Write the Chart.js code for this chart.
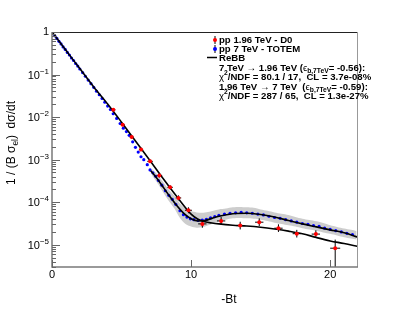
<!DOCTYPE html>
<html><head><meta charset="utf-8">
<script src="https://cdn.jsdelivr.net/npm/chart.js@4.4.0/dist/chart.umd.min.js"></script>
<style>html,body{margin:0;padding:0;background:#fff}canvas{display:block}</style>
</head><body>
<canvas id="c" width="399" height="314"></canvas>
<script>
// TOTEM 7 TeV data
const totemX = [0.05,0.2,0.35,0.5,0.65,0.8,0.95,1.1,1.25,1.4,1.55,1.7,1.85,2.0,2.2,2.4,2.6,2.8,3.0,3.2,3.4,3.6,3.8,4.0,4.2,4.4,4.65,4.9,5.13,5.35,5.55,5.8,6.0,6.2,6.4,6.6,6.85,7.05,7.25,7.45,7.65,7.9,8.15,8.4,8.65,8.9,9.2,9.45,9.7,9.95,10.2,10.5,10.8,11.1,11.4,11.7,12.0,12.4,12.8,13.2,13.6,14.0,14.4,14.8,15.2,15.6,16.0,16.4,16.8,17.2,17.6,18.0,18.4,18.8,19.2,19.6,20.0,20.4,20.8,21.2,21.6];
const totemY = [0.955,0.813,0.708,0.603,0.525,0.447,0.389,0.331,0.288,0.245,0.214,0.182,0.158,0.135,0.111,0.0912,0.0741,0.061,0.0501,0.0407,0.0335,0.0275,0.0224,0.0182,0.0151,0.0120,0.00933,0.00708,0.0055,0.00457,0.00372,0.00263,0.00195,0.00151,0.00117,0.001,7.6e-4,5.75e-4,4.9e-4,4.07e-4,3.24e-4,2.51e-4,1.86e-4,1.45e-4,1.17e-4,8.9e-5,6.3e-5,5.1e-5,4.47e-5,4.07e-5,3.89e-5,3.72e-5,3.8e-5,3.98e-5,4.27e-5,4.57e-5,4.9e-5,5.25e-5,5.5e-5,5.62e-5,5.75e-5,5.62e-5,5.5e-5,5.25e-5,5.01e-5,4.68e-5,4.37e-5,4.17e-5,3.89e-5,3.63e-5,3.39e-5,3.16e-5,3.02e-5,2.82e-5,2.69e-5,2.45e-5,2.29e-5,2.14e-5,2.0e-5,1.86e-5,1.74e-5];
// TOTEM systematic band
const bandX  = [7.2,7.6,8.0,8.4,8.8,9.2,9.6,10.0,10.4,10.8,11.2,11.6,12.0,12.5,13,13.5,14,14.5,15,15.5,16,16.5,17,17.5,18,18.5,19,19.5,20,20.5,21,21.5,21.9];
const bandHi = [6.03e-4,4.37e-4,2.95e-4,1.95e-4,1.41e-4,9.33e-5,7.08e-5,6.17e-5,5.75e-5,5.62e-5,5.89e-5,6.31e-5,6.76e-5,7.08e-5,7.59e-5,7.76e-5,7.59e-5,7.41e-5,6.76e-5,6.31e-5,5.75e-5,5.37e-5,5.01e-5,4.47e-5,4.07e-5,3.80e-5,3.55e-5,3.24e-5,2.88e-5,2.63e-5,2.40e-5,2.24e-5,2.09e-5];
const bandLo = [4.17e-4,2.75e-4,1.70e-4,1.07e-4,7.08e-5,4.27e-5,3.09e-5,2.69e-5,2.51e-5,2.57e-5,2.82e-5,3.16e-5,3.55e-5,3.89e-5,4.17e-5,4.27e-5,4.17e-5,4.07e-5,3.89e-5,3.63e-5,3.31e-5,3.09e-5,2.88e-5,2.69e-5,2.45e-5,2.29e-5,2.14e-5,1.95e-5,1.82e-5,1.66e-5,1.51e-5,1.41e-5,1.32e-5];
// D0 1.96 TeV data
const d0X   = [4.41,5.08,5.73,6.40,7.05,7.72,8.49,9.09,9.81,10.81,12.16,13.53,14.9,16.28,17.6,18.97,20.36];
const d0Y   = [0.0148,0.0066,0.00339,0.00174,9.12e-4,4.27e-4,2.24e-4,1.26e-4,6.46e-5,3.09e-5,3.63e-5,2.82e-5,3.39e-5,2.45e-5,1.82e-5,1.78e-5,8.3e-6];
const d0YHi = [0.0158,0.00708,0.00363,0.00191,0.001,4.79e-4,2.51e-4,1.45e-4,7.59e-5,3.8e-5,4.47e-5,3.47e-5,4.17e-5,3.02e-5,2.24e-5,2.19e-5,1.32e-5];
const d0YLo = [0.0138,0.00617,0.00316,0.00158,8.32e-4,3.80e-4,2.0e-4,1.10e-4,5.5e-5,2.51e-5,2.95e-5,2.29e-5,2.75e-5,2.0e-5,1.48e-5,1.45e-5,1e-7];
const d0ErrX = [0.15,0.15,0.15,0.15,0.2,0.2,0.2,0.2,0.25,0.3,0.3,0.3,0.3,0.3,0.3,0.3,0.36];
// ReBB curves
const rebb196X = [0,1,2,3,4,5,6,7,8,9,10,10.5,11,11.5,12,13,14,15,16,17,18,19,20,21,22];
const rebb196Y = [1,0.372,0.138,0.0513,0.0204,0.00759,0.00275,0.001,3.55e-4,1.32e-4,5.25e-5,3.98e-5,3.47e-5,3.24e-5,3.09e-5,2.88e-5,2.75e-5,2.57e-5,2.34e-5,2.09e-5,1.82e-5,1.48e-5,1.23e-5,1.07e-5,9.1e-6];
const rebb7X = [7.1,7.5,8,8.5,9,9.5,10,10.5,11,11.5,12,13,14,15,16,17,18,19,20,21,22];
const rebb7Y = [5.5e-4,3.8e-4,2.24e-4,1.32e-4,8.13e-5,5.37e-5,4.07e-5,3.63e-5,3.72e-5,4.17e-5,4.68e-5,5.37e-5,5.5e-5,5.13e-5,4.47e-5,3.72e-5,3.09e-5,2.63e-5,2.24e-5,1.91e-5,1.51e-5];
// axes
const xTicks = [0,10,20];
const yMajor = [1,1e-1,1e-2,1e-3,1e-4,1e-5];
const yMajorExp = [0,-1,-2,-3,-4,-5];

const pts = (xs, ys) => xs.map((x, i) => ({x: x, y: ys[i]}));
const RED_IDX = 3;
const FONT = '"Liberation Sans", Arial, Helvetica, sans-serif';

function richWidth(ctx, parts, size, bold) {
  let w = 0;
  for (const p of parts) {
    const s = p[1] === 'n' ? size : size * 0.7;
    ctx.font = (bold ? 'bold ' : '') + s + 'px ' + FONT;
    w += ctx.measureText(p[0]).width;
  }
  return w;
}
function drawRich(ctx, x, y, parts, size, bold) {
  ctx.textBaseline = 'middle';
  ctx.textAlign = 'left';
  for (const p of parts) {
    let s = size, dy = 0;
    if (p[1] === 'sub') { s = size * 0.7; dy = size * 0.3; }
    if (p[1] === 'sup') { s = size * 0.7; dy = -size * 0.35; }
    ctx.font = (p[2] === 'nb' ? '' : (bold ? 'bold ' : '')) + s + 'px ' + FONT;
    ctx.fillText(p[0], x, y + dy);
    x += ctx.measureText(p[0]).width;
  }
}

const overlay = {
  id: 'overlay',
  beforeDatasetDraw(chart, args) {
    if (args.index !== RED_IDX) return;
    const ctx = chart.ctx, xs = chart.scales.x, ys = chart.scales.y, a = chart.chartArea;
    ctx.save();
    ctx.beginPath(); ctx.rect(a.left, a.top, a.right - a.left, a.bottom - a.top); ctx.clip();
    ctx.strokeStyle = '#000'; ctx.lineWidth = 1;
    d0X.forEach((x, i) => {
      const px = xs.getPixelForValue(x), py = ys.getPixelForValue(d0Y[i]);
      const pyh = ys.getPixelForValue(d0YHi[i]), pyl = ys.getPixelForValue(d0YLo[i]);
      const pxl = xs.getPixelForValue(x - d0ErrX[i]), pxr = xs.getPixelForValue(x + d0ErrX[i]);
      ctx.beginPath();
      ctx.moveTo(px, pyh); ctx.lineTo(px, pyl);
      ctx.moveTo(pxl, py); ctx.lineTo(pxr, py);
      ctx.stroke();
    });
    ctx.restore();
  },
  afterDraw(chart) {
    const ctx = chart.ctx, xs = chart.scales.x, ys = chart.scales.y, a = chart.chartArea;
    ctx.save();
    // frame
    ctx.lineWidth = 1;
    ctx.strokeStyle = '#222';
    ctx.beginPath(); ctx.moveTo(a.left, a.top + 0.5); ctx.lineTo(a.right, a.top + 0.5); ctx.stroke();
    ctx.strokeStyle = '#999';
    ctx.beginPath(); ctx.moveTo(a.right - 0.5, a.top); ctx.lineTo(a.right - 0.5, a.bottom); ctx.stroke();
    ctx.strokeStyle = '#7a7a7a'; ctx.lineWidth = 1.5;
    ctx.beginPath(); ctx.moveTo(a.left, a.top); ctx.lineTo(a.left, a.bottom); ctx.lineTo(a.right, a.bottom); ctx.stroke();
    // y ticks
    ctx.lineWidth = 1; ctx.strokeStyle = '#666';
    for (let e = 0; e >= -6; e--) {
      for (let k = 1; k <= 9; k++) {
        const v = k * Math.pow(10, e);
        if (v > ys.max * 1.0001 || v < ys.min * 0.9999) continue;
        const py = Math.round(ys.getPixelForValue(v)) + 0.5;
        const len = k === 1 ? 8 : 4;
        ctx.beginPath(); ctx.moveTo(a.left, py); ctx.lineTo(a.left + len, py); ctx.stroke();
      }
    }
    // x ticks
    xTicks.forEach(t => {
      const px = Math.round(xs.getPixelForValue(t)) + 0.5;
      ctx.beginPath(); ctx.moveTo(px, a.bottom); ctx.lineTo(px, a.bottom - 7); ctx.stroke();
    });
    ctx.fillStyle = '#000';
    // x tick labels
    ctx.font = '11px ' + FONT; ctx.textAlign = 'center'; ctx.textBaseline = 'middle';
    xTicks.forEach(t => ctx.fillText(String(t), xs.getPixelForValue(t), a.bottom + 8));
    // y tick labels
    yMajor.forEach((v, i) => {
      const py = ys.getPixelForValue(v);
      const right = a.left - 3;
      if (yMajorExp[i] === 0) {
        ctx.font = '11px ' + FONT; ctx.textAlign = 'right'; ctx.textBaseline = 'middle';
        ctx.fillText('1', right, py);
      } else {
        const sup = '\u2212' + String(-yMajorExp[i]);
        ctx.font = '8px ' + FONT;
        const ws = ctx.measureText(sup).width;
        ctx.textAlign = 'left'; ctx.textBaseline = 'middle';
        ctx.fillText(sup, right - ws, py - 3);
        ctx.font = '11px ' + FONT; ctx.textAlign = 'right';
        ctx.fillText('10', right - ws, py + 1);
      }
    });
    // axis titles
    ctx.font = '12px ' + FONT; ctx.textAlign = 'center'; ctx.textBaseline = 'middle';
    ctx.fillText('-Bt', 229, 300);
    ctx.save();
    ctx.translate(12, 143); ctx.rotate(-Math.PI / 2);
    const yParts = [['1 / (B \u03c3', 'n'], ['el', 'sub'], [')  d\u03c3/dt', 'n']];
    const w = richWidth(ctx, yParts, 12, false);
    drawRich(ctx, -w / 2, 0, yParts, 12, false);
    ctx.restore();
    // legend
    const lx = 215;
    ctx.strokeStyle = '#000'; ctx.lineWidth = 1;
    ctx.beginPath(); ctx.moveTo(lx, 36); ctx.lineTo(lx, 44); ctx.stroke();
    ctx.fillStyle = '#ff0000'; ctx.beginPath(); ctx.arc(lx, 40, 2, 0, 2 * Math.PI); ctx.fill();
    ctx.beginPath(); ctx.moveTo(lx, 45); ctx.lineTo(lx, 53); ctx.stroke();
    ctx.fillStyle = '#0000ff'; ctx.beginPath(); ctx.arc(lx, 49, 2, 0, 2 * Math.PI); ctx.fill();
    ctx.lineWidth = 1.5;
    ctx.beginPath(); ctx.moveTo(207, 57.5); ctx.lineTo(217, 57.5); ctx.stroke();
    ctx.fillStyle = '#000';
    const tx = 219, fs = 9.6;
    drawRich(ctx, tx, 40, [['pp 1.96 TeV - D0', 'n']], fs, true);
    drawRich(ctx, tx, 49, [['pp 7 TeV - TOTEM', 'n']], fs, true);
    drawRich(ctx, tx, 58, [['ReBB', 'n']], fs, true);
    drawRich(ctx, tx, 68, [['7 TeV \u2192 1.96 TeV (', 'n'], ['\u03f5', 'n', 'nb'], ['b,7TeV', 'sub'], ['= -0.56):', 'n']], fs, true);
    drawRich(ctx, tx, 77, [['\u03c7', 'n', 'nb'], ['2', 'sup'], ['/NDF = 80.1 / 17,  CL = 3.7e-08%', 'n']], fs, true);
    drawRich(ctx, tx, 87, [['1.96 TeV \u2192 7 TeV  (', 'n'], ['\u03f5', 'n', 'nb'], ['b,7TeV', 'sub'], ['= -0.59):', 'n']], fs, true);
    drawRich(ctx, tx, 96, [['\u03c7', 'n', 'nb'], ['2', 'sup'], ['/NDF = 287 / 65,  CL = 1.3e-27%', 'n']], fs, true);
    ctx.restore();
  }
};

new Chart(document.getElementById('c'), {
  type: 'scatter',
  data: {
    datasets: [
      { data: pts(bandX, bandHi), showLine: true, borderWidth: 0, pointRadius: 0, fill: '+1', backgroundColor: 'rgb(205,205,205)', borderColor: 'rgba(0,0,0,0)', order: 7, tension: 0.3 },
      { data: pts(bandX, bandLo), showLine: true, borderWidth: 0, pointRadius: 0, fill: false, borderColor: 'rgba(0,0,0,0)', order: 6, tension: 0.3 },
      { data: pts(totemX, totemY), pointRadius: 1.6, pointBackgroundColor: '#0000ff', pointBorderWidth: 0, order: 4 },
      { data: pts(d0X, d0Y), pointRadius: 2, pointBackgroundColor: '#ff0000', pointBorderWidth: 0, order: 1 },
      { data: pts(rebb196X, rebb196Y), showLine: true, borderColor: '#000', borderWidth: 1.6, pointRadius: 0, fill: false, cubicInterpolationMode: 'monotone', order: 3 },
      { data: pts(rebb7X, rebb7Y), showLine: true, borderColor: '#000', borderWidth: 1.6, pointRadius: 0, fill: false, cubicInterpolationMode: 'monotone', order: 2 }
    ]
  },
  options: {
    responsive: false,
    animation: false,
    events: [],
    layout: { padding: { left: 52, top: 32, right: 41, bottom: 47 } },
    scales: {
      x: { type: 'linear', min: 0, max: 22, display: false },
      y: { type: 'logarithmic', min: 3e-6, max: 1, display: false }
    },
    plugins: { legend: { display: false }, tooltip: { enabled: false } }
  },
  plugins: [overlay]
});
</script>
</body></html>
